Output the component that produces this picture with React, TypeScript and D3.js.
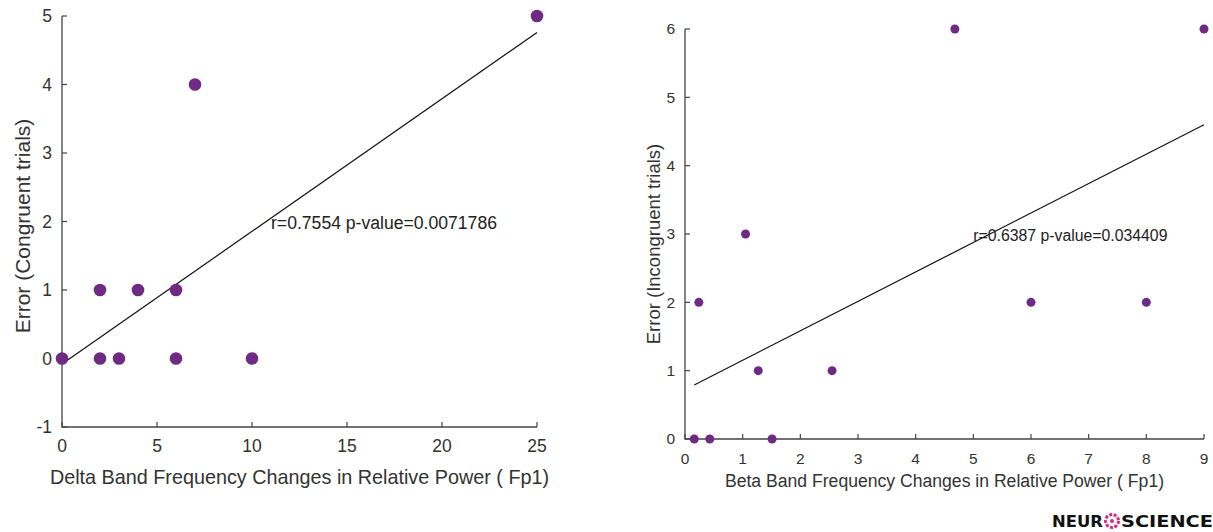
import React from 'react';
import * as d3 from 'd3';

// left panel: delta band vs congruent errors
const deltaX = [0, 2, 2, 3, 4, 6, 6, 7, 10, 25];
const deltaErr = [0, 1, 0, 0, 1, 1, 0, 4, 0, 5];
const deltaFit = [[0, -0.08], [25, 4.76]];
const deltaXTicks = [0, 5, 10, 15, 20, 25];
const deltaYTicks = [-1, 0, 1, 2, 3, 4, 5];
const deltaNote = 'r=0.7554 p-value=0.0071786';
const deltaNotePos = [11, 1.98];

// right panel: beta band vs incongruent errors
const betaX = [0.16, 0.24, 0.43, 1.05, 1.27, 1.51, 2.55, 4.68, 6, 8, 9];
const betaErr = [0, 2, 0, 3, 1, 0, 1, 6, 2, 2, 6];
const betaFit = [[0.16, 0.79], [9, 4.6]];
const betaXTicks = [0, 1, 2, 3, 4, 5, 6, 7, 8, 9];
const betaYTicks = [0, 1, 2, 3, 4, 5, 6];
const betaNote = 'r=0.6387 p-value=0.034409';
const betaNotePos = [5, 2.98];

const PURPLE = '#6f2a84';
const AXIS = '#444';
const FONT = '"Liberation Sans", Arial, sans-serif';

type PanelProps = {
  xs: number[];
  ys: number[];
  fit: number[][];
  xTicks: number[];
  yTicks: number[];
  xDomain: [number, number];
  yDomain: [number, number];
  xRange: [number, number];
  yRange: [number, number];
  note: string;
  notePos: number[];
  noteSize: number;
  xTitle: string;
  yTitle: string;
  xTitleY: number;
  xTitleSize: number;
  yTitleX: number;
  yTitleY: number;
  yTitleSize: number;
  tickSize: number;
  r: number;
};

const Panel = (p: PanelProps) => {
  const x = d3.scaleLinear().domain(p.xDomain).range(p.xRange);
  const y = d3.scaleLinear().domain(p.yDomain).range(p.yRange);
  const line = d3.line<number[]>().x(d => x(d[0])).y(d => y(d[1]));
  const x0 = p.xRange[0];
  const yb = p.yRange[0];
  const tk = 5;
  return (
    <g fontFamily={FONT}>
      {/* axes */}
      <path d={`M${x0},${p.yRange[1]}V${yb}H${p.xRange[1]}`} fill="none" stroke={AXIS} strokeWidth={1.3} />
      {p.xTicks.map(t => (
        <g key={'x' + t}>
          <line x1={x(t)} x2={x(t)} y1={yb} y2={yb - tk} stroke={AXIS} strokeWidth={1.2} />
          <text x={x(t)} y={yb + 25} textAnchor="middle" fontSize={p.tickSize} fill="#333">{t}</text>
        </g>
      ))}
      {p.yTicks.map(t => (
        <g key={'y' + t}>
          <line x1={x0} x2={x0 + tk} y1={y(t)} y2={y(t)} stroke={AXIS} strokeWidth={1.2} />
          <text x={x0 - 10} y={y(t)} dy="0.35em" textAnchor="end" fontSize={p.tickSize} fill="#333">{t}</text>
        </g>
      ))}
      {/* fit line */}
      <path d={line(p.fit) || ''} fill="none" stroke="#111" strokeWidth={1.2} />
      {/* points */}
      {p.xs.map((v, i) => (
        <circle key={i} cx={x(v)} cy={y(p.ys[i])} r={p.r} fill={PURPLE} />
      ))}
      <text x={x(p.notePos[0])} y={y(p.notePos[1])} dy="0.35em" fontSize={p.noteSize} fill="#222">{p.note}</text>
      <text x={(p.xRange[0] + p.xRange[1]) / 2} y={p.xTitleY} textAnchor="middle" fontSize={p.xTitleSize} fill="#333">{p.xTitle}</text>
      <text transform={`translate(${p.yTitleX},${p.yTitleY}) rotate(-90)`} textAnchor="middle" fontSize={p.yTitleSize} fill="#333">{p.yTitle}</text>
    </g>
  );
};

const App = () => {
  return (
    <svg width={1213} height={532} style={{ position: 'absolute', left: 0, top: 0, background: '#fff' }}>
      <rect width={1213} height={532} fill="#fff" />
      <Panel
        xs={deltaX} ys={deltaErr} fit={deltaFit}
        xTicks={deltaXTicks} yTicks={deltaYTicks}
        xDomain={[0, 25]} yDomain={[-1, 5]}
        xRange={[62, 537]} yRange={[427, 16]}
        note={deltaNote} notePos={deltaNotePos} noteSize={17.6}
        xTitle="Delta Band Frequency Changes in Relative Power ( Fp1)"
        yTitle="Error (Congruent trials)"
        xTitleY={484} xTitleSize={19.8}
        yTitleX={30} yTitleY={226} yTitleSize={21}
        tickSize={17.5} r={6.3}
      />
      <Panel
        xs={betaX} ys={betaErr} fit={betaFit}
        xTicks={betaXTicks} yTicks={betaYTicks}
        xDomain={[0, 9]} yDomain={[0, 6]}
        xRange={[685, 1204]} yRange={[439, 29]}
        note={betaNote} notePos={betaNotePos} noteSize={15.8}
        xTitle="Beta Band Frequency Changes in Relative Power ( Fp1)"
        yTitle="Error (Incongruent trials)"
        xTitleY={487} xTitleSize={17.6}
        yTitleX={660} yTitleY={244} yTitleSize={18.5}
        tickSize={15.5} r={4.5}
      />
      {/* logo */}
      <g fontFamily='"DejaVu Sans", sans-serif' fontWeight="bold" fontSize={16} fill="#111">
        <text x={1052} y={527} textLength={51} lengthAdjust="spacingAndGlyphs">NEUR</text>
        <circle cx={1112} cy={521} r={6.5} fill="none" stroke="#e0287a" strokeWidth={3} strokeDasharray="3 1.5" />
        <circle cx={1112} cy={521} r={2} fill="#e0287a" />
        <text x={1121} y={527} textLength={92} lengthAdjust="spacingAndGlyphs">SCIENCE</text>
      </g>
    </svg>
  );
};

export default App;
